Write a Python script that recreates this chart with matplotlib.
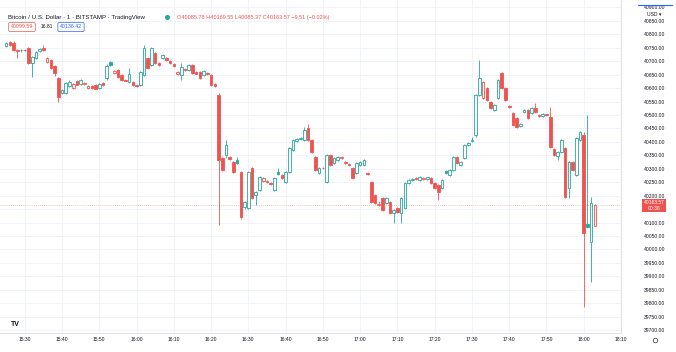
import matplotlib
matplotlib.use("Agg")
import matplotlib.pyplot as plt
import matplotlib.transforms as mtransforms

plt.rcParams['font.family'] = ['Liberation Sans', 'DejaVu Sans']

# 1-minute candles, BTC/USD Bitstamp, first candle at 15:25
start_minute = 15 * 60 + 25

opens = [40756, 40771, 40768, 40742, 40740, 40742, 40749, 40693, 40712, 40738,
         40749, 40697, 40704, 40682, 40637, 40582, 40582, 40608, 40600, 40626,
         40615, 40615, 40600, 40608, 40611, 40600, 40619, 40637, 40697, 40656,
         40667, 40649, 40630, 40623, 40623, 40611, 40611, 40649, 40712, 40686,
         40730, 40693, 40712, 40712, 40701, 40689, 40652, 40649, 40671, 40667,
         40686, 40660, 40660, 40649, 40656, 40649, 40615, 40574, 40340, 40351,
         40344, 40325, 40332, 40288, 40158, 40154, 40303, 40202, 40221, 40254,
         40254, 40247, 40221, 40288, 40277, 40251, 40288, 40370, 40403, 40411,
         40407, 40451, 40407, 40344, 40284, 40303, 40251, 40351, 40321, 40332,
         40340, 40325, 40318, 40303, 40284, 40314, 40314, 40284, 40251, 40202,
         40165, 40191, 40172, 40176, 40135, 40154, 40135, 40154, 40247, 40258,
         40265, 40258, 40262, 40262, 40265, 40247, 40239, 40228, 40291, 40277,
         40295, 40344, 40314, 40340, 40388, 40403, 40425, 40574, 40563, 40600,
         40548, 40518, 40563, 40656, 40600, 40533, 40507, 40489, 40459, 40511,
         40518, 40507, 40526, 40500, 40497, 40502, 40492, 40373, 40347, 40362,
         40377, 40228, 40325, 40277, 40407, 40425, 40094, 40027, 40085.78]

highs = [40772, 40776, 40775, 40745, 40745, 40746, 40753, 40719, 40738, 40749,
         40760, 40716, 40708, 40686, 40641, 40597, 40623, 40630, 40619, 40630,
         40634, 40623, 40611, 40611, 40615, 40619, 40623, 40689, 40701, 40667,
         40671, 40652, 40634, 40675, 40626, 40613, 40663, 40760, 40716, 40753,
         40734, 40697, 40727, 40716, 40704, 40693, 40663, 40693, 40675, 40689,
         40689, 40663, 40663, 40667, 40660, 40652, 40619, 40582, 40344, 40407,
         40347, 40328, 40344, 40291, 40180, 40291, 40306, 40217, 40273, 40269,
         40258, 40250, 40269, 40303, 40280, 40291, 40381, 40410, 40414, 40418,
         40455, 40466, 40410, 40347, 40306, 40306, 40355, 40355, 40344, 40347,
         40346, 40328, 40321, 40306, 40325, 40329, 40336, 40288, 40254, 40206,
         40180, 40195, 40195, 40180, 40150, 40158, 40195, 40251, 40262, 40265,
         40269, 40273, 40269, 40271, 40269, 40250, 40243, 40262, 40295, 40299,
         40347, 40347, 40329, 40392, 40399, 40418, 40578, 40704, 40626, 40604,
         40552, 40541, 40634, 40660, 40604, 40537, 40511, 40492, 40470, 40522,
         40522, 40530, 40544, 40503, 40506, 40505, 40530, 40377, 40366, 40410,
         40381, 40328, 40328, 40418, 40440, 40437, 40500, 40195, 40169.55]

lows = [40752, 40757, 40738, 40712, 40736, 40737, 40689, 40641, 40708, 40734,
        40738, 40693, 40671, 40645, 40548, 40578, 40578, 40604, 40597, 40611,
        40611, 40611, 40597, 40597, 40597, 40597, 40608, 40630, 40682, 40652,
        40637, 40626, 40626, 40619, 40608, 40604, 40608, 40645, 40671, 40682,
        40689, 40682, 40708, 40701, 40689, 40678, 40649, 40630, 40663, 40663,
        40652, 40652, 40634, 40645, 40649, 40608, 40604, 40090, 40291, 40340,
        40332, 40284, 40317, 40113, 40150, 40150, 40187, 40165, 40217, 40250,
        40247, 40240, 40217, 40276, 40262, 40247, 40284, 40366, 40399, 40407,
        40403, 40403, 40358, 40291, 40280, 40299, 40247, 40310, 40317, 40329,
        40336, 40317, 40310, 40262, 40280, 40310, 40310, 40277, 40172, 40169,
        40161, 40143, 40169, 40131, 40098, 40135, 40098, 40150, 40243, 40254,
        40258, 40254, 40258, 40258, 40243, 40224, 40184, 40224, 40280, 40273,
        40291, 40317, 40310, 40336, 40384, 40399, 40418, 40571, 40559, 40552,
        40522, 40515, 40559, 40597, 40552, 40526, 40459, 40451, 40455, 40507,
        40485, 40503, 40507, 40493, 40494, 40495, 40377, 40347, 40332, 40358,
        40191, 40191, 40291, 40273, 40403, 39786, 40079, 39879, 40085.37]

closes = [40768, 40760, 40742, 40738, 40742, 40741, 40693, 40716, 40734, 40745,
          40742, 40712, 40675, 40656, 40567, 40593, 40619, 40623, 40615, 40613,
          40630, 40619, 40608, 40600, 40598, 40615, 40611, 40682, 40686, 40663,
          40641, 40630, 40628, 40652, 40611, 40608, 40660, 40749, 40675, 40749,
          40693, 40686, 40723, 40704, 40693, 40682, 40660, 40678, 40667, 40686,
          40656, 40654, 40637, 40663, 40652, 40611, 40606, 40332, 40295, 40388,
          40336, 40288, 40321, 40120, 40176, 40288, 40191, 40213, 40269, 40265,
          40251, 40243, 40265, 40280, 40265, 40288, 40377, 40407, 40411, 40414,
          40444, 40407, 40362, 40295, 40303, 40301, 40351, 40314, 40340, 40343,
          40342, 40321, 40314, 40265, 40321, 40325, 40332, 40280, 40176, 40172,
          40170, 40146, 40191, 40135, 40146, 40139, 40191, 40247, 40258, 40262,
          40260, 40269, 40265, 40268, 40247, 40228, 40213, 40258, 40284, 40295,
          40344, 40321, 40325, 40388, 40396, 40407, 40574, 40637, 40623, 40556,
          40526, 40537, 40630, 40600, 40556, 40530, 40463, 40455, 40466, 40518,
          40489, 40526, 40511, 40497, 40502, 40499, 40381, 40351, 40362, 40407,
          40195, 40325, 40295, 40414, 40437, 40061, 40083, 40173.08, 40163.57]

price_ticks = list(range(39700, 40901, 50))
time_labels = ["15:30", "15:40", "15:50", "16:00", "16:10", "16:20", "16:30", "16:40",
               "16:50", "17:00", "17:10", "17:20", "17:30", "17:40", "17:50", "18:00", "18:10"]

symbol_title = "Bitcoin / U.S. Dollar · 1 · BITSTAMP · TradingView"
sell_price = "40099.59"
spread = "16.81"
buy_price = "40136.42"
countdown = "00:38"

UP = '#26a69a'
DOWN = '#ef5350'
GRID = '#f0f3fa'
TEXT = '#131722'

assert len(opens) == len(highs) == len(lows) == len(closes)

W, H = 676, 352
fig = plt.figure(figsize=(W / 100, H / 100), dpi=100)
# chart pane: pixel x 0..621, y 0..333
ax = fig.add_axes([0, (H - 333) / H, 621 / W, 333 / H])

px_per_min = 3.77
ax.set_xlim(-6.2 / px_per_min, (621 - 6.2) / px_per_min)
ax.set_ylim(39689, 40927.6)

# grid
tick_pos = [int(t[:2]) * 60 + int(t[3:]) - start_minute for t in time_labels]
for x in tick_pos:
    ax.axvline(x, color=GRID, lw=0.7, zorder=0)
for p in price_ticks:
    ax.axhline(p, color=GRID, lw=0.7, zorder=0)

# hollow candles: colour from close vs previous close, fill from close vs open
body_w = 0.7
for i, (o, h, l, c) in enumerate(zip(opens, highs, lows, closes)):
    prev = closes[i - 1] if i > 0 else o
    col = UP if c >= prev else DOWN
    top, bot = max(o, c), min(o, c)
    ax.vlines(i, bot, l, color=col, lw=0.6, zorder=2)
    ax.vlines(i, top, h, color=col, lw=0.6, zorder=2)
    height = max(top - bot, 1.5)
    face = 'white' if c > o else col
    ax.bar(i, height, bottom=bot, width=body_w, facecolor=face,
           edgecolor=col, linewidth=0.6, zorder=3)

# last price line
last = closes[-1]
ax.axhline(last, color=DOWN, lw=0.5, ls=(0, (1, 2)), alpha=0.7, zorder=1)

# axes styling
for side in ['top', 'left']:
    ax.spines[side].set_visible(False)
ax.spines['right'].set_color('#e0e3eb')
ax.spines['bottom'].set_color('#e0e3eb')
ax.spines['right'].set_linewidth(0.8)
ax.spines['bottom'].set_linewidth(0.8)

# the last-price badge hides the scale label under it
ax.yaxis.tick_right()
ax.set_yticks(price_ticks)
ax.set_yticklabels(["" if abs(p - last) < 25 else f"{p:.2f}" for p in price_ticks])
ax.tick_params(axis='y', length=0, pad=24, labelsize=3.6, labelcolor=TEXT)
for lbl in ax.get_yticklabels():
    lbl.set_horizontalalignment('center')

ax.set_xticks(tick_pos)
ax.set_xticklabels(time_labels)
ax.tick_params(axis='x', length=0, pad=2.6, labelsize=3.6, labelcolor=TEXT)

# last price badge on the price scale
trans = mtransforms.blended_transform_factory(fig.transFigure, ax.transData)
ax.text(654 / W, last, f"{last:.2f}\n{countdown}", transform=trans,
        ha='center', va='center', fontsize=3.6, color='white', linespacing=1.2,
        bbox=dict(boxstyle='square,pad=0.3', fc=DOWN, ec='none'), zorder=5)

def fx(px):
    return px / W

def fy(py):
    return 1 - py / H

# legend rows
fig.text(fx(8), fy(17), symbol_title, fontsize=4.4, color=TEXT, va='center')
fig.add_artist(plt.Line2D([fx(167)], [fy(16.5)], marker='o', markersize=2.6,
                          color=UP, transform=fig.transFigure))
chg = closes[-1] - closes[-2]
ohlc = (f"O{opens[-1]:.2f} H{highs[-1]:.2f} L{lows[-1]:.2f} C{closes[-1]:.2f} "
        f"\u2212{abs(chg):.2f} (\u2212{abs(chg) / closes[-2] * 100:.2f}%)")
fig.text(fx(177), fy(17), ohlc, fontsize=4.0, color=DOWN, va='center')

fig.text(fx(22), fy(27), sell_price, fontsize=3.8, color=DOWN, ha='center', va='center',
         bbox=dict(boxstyle='round,pad=0.4,rounding_size=0.3', fc='white', ec=DOWN, lw=0.5))
fig.text(fx(46.5), fy(27), spread, fontsize=3.6, color=TEXT, ha='center', va='center')
fig.text(fx(71), fy(27), buy_price, fontsize=3.8, color='#2962ff', ha='center', va='center',
         bbox=dict(boxstyle='round,pad=0.4,rounding_size=0.3', fc='white', ec='#2962ff', lw=0.5))

fig.text(fx(654), fy(14), "USD \u25be", fontsize=3.6, color=TEXT, ha='center', va='center')
fig.add_artist(plt.Line2D([fx(638), fx(672)], [fy(5), fy(5)], color='#2962ff', lw=0.8,
                          transform=fig.transFigure))

# TradingView logo and settings icon
fig.text(fx(15), fy(325), "TV", fontsize=5, fontweight='bold', color=TEXT, ha='center', va='center')
fig.add_artist(plt.Line2D([fx(655)], [fy(340)], marker='o', markersize=3.2, mfc='white',
                          mec='#4a4a4a', mew=0.6, transform=fig.transFigure))

fig.savefig("out.png", dpi=100)
